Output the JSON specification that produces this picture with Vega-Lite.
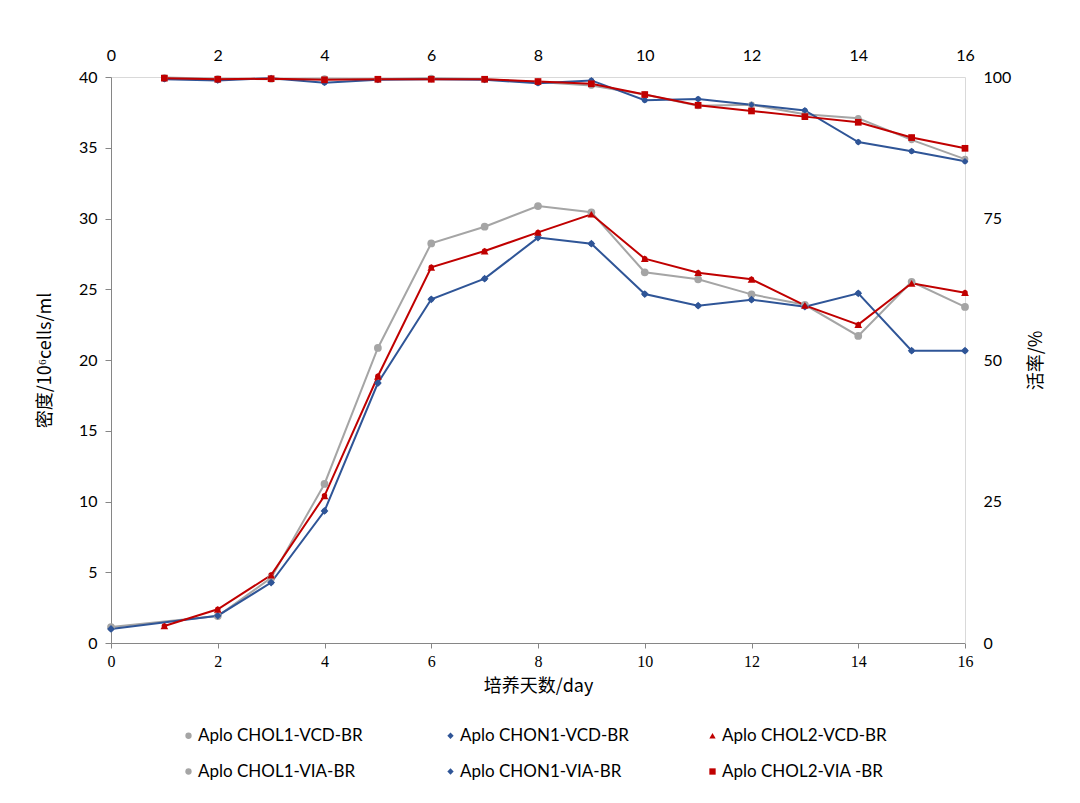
{
  "$schema": "https://vega.github.io/schema/vega-lite/v6.json",
  "width": 854,
  "height": 566,
  "autosize": {"type": "none"},
  "padding": {"left": 111, "top": 77, "right": 115, "bottom": 160},
  "background": "white",
  "config": {
    "view": {"stroke": null},
    "font": "Lato",
    "axis": {"grid": false, "labelFont": "Lato", "labelFontSize": 16, "labelColor": "#000000", "labelFlush": false, "titleFont": "Noto Sans CJK SC", "titleFontSize": 18, "titleFontWeight": "normal", "titleColor": "#000000"},
    "legend": {"labelFont": "Lato", "labelFontSize": 17, "labelColor": "#000000", "labelLimit": 300}
  },
  "datasets": {
    "d": [
      {"series": "Aplo CHOL1-VCD-BR", "kind": "VCD", "day": 0, "value": 1.13},
      {"series": "Aplo CHOL1-VCD-BR", "kind": "VCD", "day": 2, "value": 1.9},
      {"series": "Aplo CHOL1-VCD-BR", "kind": "VCD", "day": 3, "value": 4.6},
      {"series": "Aplo CHOL1-VCD-BR", "kind": "VCD", "day": 4, "value": 11.24},
      {"series": "Aplo CHOL1-VCD-BR", "kind": "VCD", "day": 5, "value": 20.85},
      {"series": "Aplo CHOL1-VCD-BR", "kind": "VCD", "day": 6, "value": 28.24},
      {"series": "Aplo CHOL1-VCD-BR", "kind": "VCD", "day": 7, "value": 29.42},
      {"series": "Aplo CHOL1-VCD-BR", "kind": "VCD", "day": 8, "value": 30.88},
      {"series": "Aplo CHOL1-VCD-BR", "kind": "VCD", "day": 9, "value": 30.44},
      {"series": "Aplo CHOL1-VCD-BR", "kind": "VCD", "day": 10, "value": 26.2},
      {"series": "Aplo CHOL1-VCD-BR", "kind": "VCD", "day": 11, "value": 25.7},
      {"series": "Aplo CHOL1-VCD-BR", "kind": "VCD", "day": 12, "value": 24.64},
      {"series": "Aplo CHOL1-VCD-BR", "kind": "VCD", "day": 13, "value": 23.9},
      {"series": "Aplo CHOL1-VCD-BR", "kind": "VCD", "day": 14, "value": 21.7},
      {"series": "Aplo CHOL1-VCD-BR", "kind": "VCD", "day": 15, "value": 25.53},
      {"series": "Aplo CHOL1-VCD-BR", "kind": "VCD", "day": 16, "value": 23.75},
      {"series": "Aplo CHON1-VCD-BR", "kind": "VCD", "day": 0, "value": 0.99},
      {"series": "Aplo CHON1-VCD-BR", "kind": "VCD", "day": 2, "value": 1.93},
      {"series": "Aplo CHON1-VCD-BR", "kind": "VCD", "day": 3, "value": 4.27},
      {"series": "Aplo CHON1-VCD-BR", "kind": "VCD", "day": 4, "value": 9.33},
      {"series": "Aplo CHON1-VCD-BR", "kind": "VCD", "day": 5, "value": 18.37},
      {"series": "Aplo CHON1-VCD-BR", "kind": "VCD", "day": 6, "value": 24.29},
      {"series": "Aplo CHON1-VCD-BR", "kind": "VCD", "day": 7, "value": 25.75},
      {"series": "Aplo CHON1-VCD-BR", "kind": "VCD", "day": 8, "value": 28.65},
      {"series": "Aplo CHON1-VCD-BR", "kind": "VCD", "day": 9, "value": 28.22},
      {"series": "Aplo CHON1-VCD-BR", "kind": "VCD", "day": 10, "value": 24.66},
      {"series": "Aplo CHON1-VCD-BR", "kind": "VCD", "day": 11, "value": 23.84},
      {"series": "Aplo CHON1-VCD-BR", "kind": "VCD", "day": 12, "value": 24.26},
      {"series": "Aplo CHON1-VCD-BR", "kind": "VCD", "day": 13, "value": 23.77},
      {"series": "Aplo CHON1-VCD-BR", "kind": "VCD", "day": 14, "value": 24.71},
      {"series": "Aplo CHON1-VCD-BR", "kind": "VCD", "day": 15, "value": 20.66},
      {"series": "Aplo CHON1-VCD-BR", "kind": "VCD", "day": 16, "value": 20.66},
      {"series": "Aplo CHOL2-VCD-BR", "kind": "VCD", "day": 1, "value": 1.2},
      {"series": "Aplo CHOL2-VCD-BR", "kind": "VCD", "day": 2, "value": 2.38},
      {"series": "Aplo CHOL2-VCD-BR", "kind": "VCD", "day": 3, "value": 4.8},
      {"series": "Aplo CHOL2-VCD-BR", "kind": "VCD", "day": 4, "value": 10.4},
      {"series": "Aplo CHOL2-VCD-BR", "kind": "VCD", "day": 5, "value": 18.85},
      {"series": "Aplo CHOL2-VCD-BR", "kind": "VCD", "day": 6, "value": 26.55},
      {"series": "Aplo CHOL2-VCD-BR", "kind": "VCD", "day": 7, "value": 27.7},
      {"series": "Aplo CHOL2-VCD-BR", "kind": "VCD", "day": 8, "value": 29.02},
      {"series": "Aplo CHOL2-VCD-BR", "kind": "VCD", "day": 9, "value": 30.3},
      {"series": "Aplo CHOL2-VCD-BR", "kind": "VCD", "day": 10, "value": 27.16},
      {"series": "Aplo CHOL2-VCD-BR", "kind": "VCD", "day": 11, "value": 26.17},
      {"series": "Aplo CHOL2-VCD-BR", "kind": "VCD", "day": 12, "value": 25.7},
      {"series": "Aplo CHOL2-VCD-BR", "kind": "VCD", "day": 13, "value": 23.86},
      {"series": "Aplo CHOL2-VCD-BR", "kind": "VCD", "day": 14, "value": 22.5},
      {"series": "Aplo CHOL2-VCD-BR", "kind": "VCD", "day": 15, "value": 25.42},
      {"series": "Aplo CHOL2-VCD-BR", "kind": "VCD", "day": 16, "value": 24.76},
      {"series": "Aplo CHOL1-VIA-BR", "kind": "VIA", "day": 1, "value": 99.9},
      {"series": "Aplo CHOL1-VIA-BR", "kind": "VIA", "day": 2, "value": 99.7},
      {"series": "Aplo CHOL1-VIA-BR", "kind": "VIA", "day": 3, "value": 99.6},
      {"series": "Aplo CHOL1-VIA-BR", "kind": "VIA", "day": 4, "value": 99.7},
      {"series": "Aplo CHOL1-VIA-BR", "kind": "VIA", "day": 5, "value": 99.6},
      {"series": "Aplo CHOL1-VIA-BR", "kind": "VIA", "day": 6, "value": 99.8},
      {"series": "Aplo CHOL1-VIA-BR", "kind": "VIA", "day": 7, "value": 99.6},
      {"series": "Aplo CHOL1-VIA-BR", "kind": "VIA", "day": 8, "value": 99.1},
      {"series": "Aplo CHOL1-VIA-BR", "kind": "VIA", "day": 9, "value": 98.5},
      {"series": "Aplo CHOL1-VIA-BR", "kind": "VIA", "day": 10, "value": 96.9},
      {"series": "Aplo CHOL1-VIA-BR", "kind": "VIA", "day": 11, "value": 94.9},
      {"series": "Aplo CHOL1-VIA-BR", "kind": "VIA", "day": 12, "value": 95.1},
      {"series": "Aplo CHOL1-VIA-BR", "kind": "VIA", "day": 13, "value": 93.4},
      {"series": "Aplo CHOL1-VIA-BR", "kind": "VIA", "day": 14, "value": 92.7},
      {"series": "Aplo CHOL1-VIA-BR", "kind": "VIA", "day": 15, "value": 88.9},
      {"series": "Aplo CHOL1-VIA-BR", "kind": "VIA", "day": 16, "value": 85.5},
      {"series": "Aplo CHON1-VIA-BR", "kind": "VIA", "day": 1, "value": 99.6},
      {"series": "Aplo CHON1-VIA-BR", "kind": "VIA", "day": 2, "value": 99.4},
      {"series": "Aplo CHON1-VIA-BR", "kind": "VIA", "day": 3, "value": 99.8},
      {"series": "Aplo CHON1-VIA-BR", "kind": "VIA", "day": 4, "value": 99.0},
      {"series": "Aplo CHON1-VIA-BR", "kind": "VIA", "day": 5, "value": 99.5},
      {"series": "Aplo CHON1-VIA-BR", "kind": "VIA", "day": 6, "value": 99.6},
      {"series": "Aplo CHON1-VIA-BR", "kind": "VIA", "day": 7, "value": 99.5},
      {"series": "Aplo CHON1-VIA-BR", "kind": "VIA", "day": 8, "value": 98.9},
      {"series": "Aplo CHON1-VIA-BR", "kind": "VIA", "day": 9, "value": 99.4},
      {"series": "Aplo CHON1-VIA-BR", "kind": "VIA", "day": 10, "value": 95.9},
      {"series": "Aplo CHON1-VIA-BR", "kind": "VIA", "day": 11, "value": 96.1},
      {"series": "Aplo CHON1-VIA-BR", "kind": "VIA", "day": 12, "value": 95.1},
      {"series": "Aplo CHON1-VIA-BR", "kind": "VIA", "day": 13, "value": 94.1},
      {"series": "Aplo CHON1-VIA-BR", "kind": "VIA", "day": 14, "value": 88.5},
      {"series": "Aplo CHON1-VIA-BR", "kind": "VIA", "day": 15, "value": 86.9},
      {"series": "Aplo CHON1-VIA-BR", "kind": "VIA", "day": 16, "value": 85.1},
      {"series": "Aplo CHOL2-VIA -BR", "kind": "VIA", "day": 1, "value": 99.8},
      {"series": "Aplo CHOL2-VIA -BR", "kind": "VIA", "day": 2, "value": 99.6},
      {"series": "Aplo CHOL2-VIA -BR", "kind": "VIA", "day": 3, "value": 99.7},
      {"series": "Aplo CHOL2-VIA -BR", "kind": "VIA", "day": 4, "value": 99.5},
      {"series": "Aplo CHOL2-VIA -BR", "kind": "VIA", "day": 5, "value": 99.6},
      {"series": "Aplo CHOL2-VIA -BR", "kind": "VIA", "day": 6, "value": 99.6},
      {"series": "Aplo CHOL2-VIA -BR", "kind": "VIA", "day": 7, "value": 99.6},
      {"series": "Aplo CHOL2-VIA -BR", "kind": "VIA", "day": 8, "value": 99.2},
      {"series": "Aplo CHOL2-VIA -BR", "kind": "VIA", "day": 9, "value": 98.8},
      {"series": "Aplo CHOL2-VIA -BR", "kind": "VIA", "day": 10, "value": 96.9},
      {"series": "Aplo CHOL2-VIA -BR", "kind": "VIA", "day": 11, "value": 95.0},
      {"series": "Aplo CHOL2-VIA -BR", "kind": "VIA", "day": 12, "value": 94.0},
      {"series": "Aplo CHOL2-VIA -BR", "kind": "VIA", "day": 13, "value": 93.0},
      {"series": "Aplo CHOL2-VIA -BR", "kind": "VIA", "day": 14, "value": 92.0},
      {"series": "Aplo CHOL2-VIA -BR", "kind": "VIA", "day": 15, "value": 89.3},
      {"series": "Aplo CHOL2-VIA -BR", "kind": "VIA", "day": 16, "value": 87.4}
    ]
  },
  "data": {"name": "d"},
  "layer": [
    {
      "transform": [{"filter": "datum.kind === 'VCD'"}],
      "encoding": {
        "x": {"field": "day", "type": "quantitative", "scale": {"domain": [0, 16], "nice": false},
          "axis": {"orient": "bottom", "values": [0, 2, 4, 6, 8, 10, 12, 14, 16], "title": "培养天数/day", "labelFont": "Liberation Serif", "labelFontSize": 16, "domainColor": "#868686", "tickColor": "#868686", "tickSize": 5, "labelPadding": 5, "titlePadding": 8}},
        "y": {"field": "value", "type": "quantitative", "scale": {"domain": [0, 40], "nice": false},
          "axis": {"orient": "left", "values": [0, 5, 10, 15, 20, 25, 30, 35, 40], "title": "密度/10⁶cells/ml", "domainColor": "#868686", "tickColor": "#868686", "tickSize": 6, "labelPadding": 8, "titlePadding": 24}},
        "color": {"field": "series", "type": "nominal",
          "scale": {"domain": ["Aplo CHOL1-VCD-BR", "Aplo CHON1-VCD-BR", "Aplo CHOL2-VCD-BR", "Aplo CHOL1-VIA-BR", "Aplo CHON1-VIA-BR", "Aplo CHOL2-VIA -BR"],
            "range": ["#A5A5A5", "#2F5597", "#C00000", "#A5A5A5", "#2F5597", "#C00000"]},
          "legend": {"title": null, "orient": "none", "legendX": 69, "legendY": 650, "columns": 3, "direction": "horizontal", "gridAlign": "all", "columnPadding": 75, "rowPadding": 18, "symbolSize": 40, "symbolOffset": 0, "labelOffset": 1, "symbolStrokeWidth": 0}},
        "shape": {"field": "series", "type": "nominal",
          "scale": {"domain": ["Aplo CHOL1-VCD-BR", "Aplo CHON1-VCD-BR", "Aplo CHOL2-VCD-BR", "Aplo CHOL1-VIA-BR", "Aplo CHON1-VIA-BR", "Aplo CHOL2-VIA -BR"],
            "range": ["circle", "diamond", "triangle-up", "circle", "diamond", "square"]},
          "legend": {"title": null}}
      },
      "layer": [
        {"mark": {"type": "line", "strokeWidth": 2}, "encoding": {"shape": {"value": "circle"}}},
        {"mark": {"type": "point", "filled": true, "opacity": 1, "size": 60}}
      ]
    },
    {
      "transform": [{"filter": "datum.kind === 'VIA'"}],
      "encoding": {
        "x": {"field": "day", "type": "quantitative", "scale": {"domain": [0, 16], "nice": false},
          "axis": {"orient": "top", "values": [0, 2, 4, 6, 8, 10, 12, 14, 16], "title": null, "domainColor": "#D9D9D9", "ticks": false, "labelPadding": 14}},
        "y": {"field": "value", "type": "quantitative", "scale": {"domain": [0, 100], "nice": false},
          "axis": {"orient": "right", "values": [0, 25, 50, 75, 100], "title": "活率/%", "titleAngle": 270, "domainColor": "#D9D9D9", "ticks": false, "labelPadding": 18, "titlePadding": 35}},
        "color": {"field": "series", "type": "nominal"},
        "shape": {"field": "series", "type": "nominal"}
      },
      "layer": [
        {"mark": {"type": "line", "strokeWidth": 2}, "encoding": {"shape": {"value": "circle"}}},
        {"mark": {"type": "point", "filled": true, "opacity": 1, "size": 45}}
      ]
    }
  ],
  "resolve": {"scale": {"y": "independent", "x": "independent"}, "axis": {"x": "independent", "y": "independent"}}
}
